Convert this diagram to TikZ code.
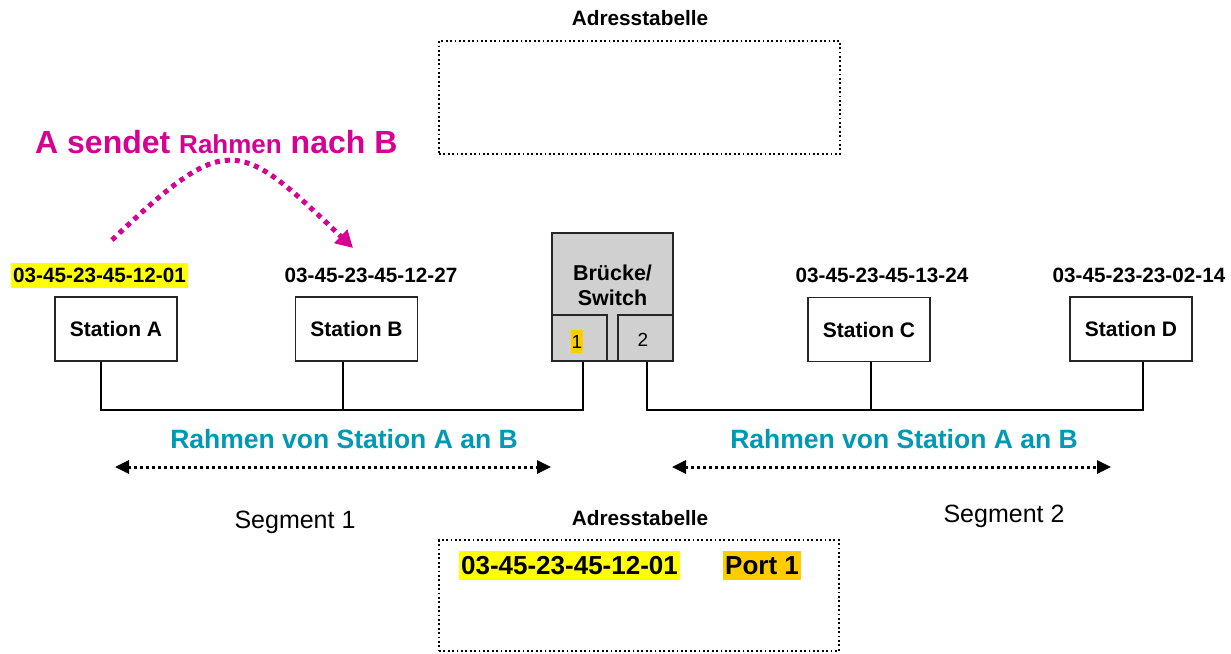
\documentclass[tikz,border=0pt]{standalone}
\usepackage{fontspec}
\setmainfont{Liberation Sans}
\usetikzlibrary{arrows.meta,calc}

\definecolor{magentaA}{RGB}{214,0,147}
\definecolor{tealA}{RGB}{0,153,181}
\definecolor{hlyellow}{RGB}{255,255,0}
\definecolor{hlorange}{RGB}{255,204,0}
\definecolor{swgray}{RGB}{208,208,208}

\newcommand\fsz[1]{\fontsize{#1}{#1}\selectfont}

\begin{document}
\begin{tikzpicture}[x=1pt,y=-1pt,
  station/.style={draw=black!85, line width=1.8pt, minimum width=122pt,
    minimum height=64pt, inner sep=0pt, font=\fsz{21}\bfseries},
  mac/.style={font=\fsz{20.7}\bfseries, inner xsep=2pt, inner ysep=0pt},
  bus/.style={line width=2.6pt, line join=miter},
  swbox/.style={draw=black!85, fill=swgray, line width=1.8pt, inner sep=0pt},
  tablebox/.style={draw, line width=1.8pt, dash pattern=on 1.8pt off 2.6pt,
    inner sep=0pt},
  tabtitle/.style={font=\fsz{20.8}\bfseries, anchor=base, inner sep=0pt},
  frametext/.style={font=\fsz{26.5}\bfseries, text=tealA, anchor=base, inner sep=0pt},
  seglabel/.style={font=\fsz{25}, anchor=base, inner sep=0pt},
  entry/.style={font=\fsz{26}\bfseries, minimum height=29pt, inner xsep=2pt, inner ysep=0pt},
  dotarrow/.style={line width=3pt, dash pattern=on 3pt off 3pt,
    {Triangle[length=14pt,width=13pt]}-{Triangle[length=14pt,width=13pt]}},
  sendarrow/.style={magentaA, line width=5pt, dash pattern=on 5pt off 5pt,
    -{Triangle[length=17pt,width=18pt]}}
]
\useasboundingbox (0,0) rectangle (1231,653);
\fill[white] (0,0) rectangle (1231,653);

% address tables
\node[tabtitle] (tt1) at (640,25) {Adresstabelle};
\node[tablebox, minimum width=401pt, minimum height=113pt] (tab1) at (639.5,97.5) {};
\node[tabtitle] (tt2) at (640,525) {Adresstabelle};
\node[tablebox, minimum width=400pt, minimum height=111pt] (tab2) at (639,595.5) {};
\node[entry, fill=hlyellow] (e1) at (569.5,565.5) {03-45-23-45-12-01};
\node[entry, fill=hlorange] (e2) at (762,565.5) {Port 1};

% heading and sending arrow
\node[anchor=base west, inner sep=0pt, text=magentaA, font=\fsz{32}\bfseries] (head) at (35,153)
  {A sendet {\fsz{26}Rahmen} nach B};
\coordinate (sA) at (112,240);
\coordinate (sB) at (353,248);
\draw[sendarrow] (sA) .. controls (228,130) and (238,138) .. (sB);

% stations
\node[station] (A) at (116,329) {Station A};
\node[station] (B) at (356.5,329) {Station B};
\node[station] (C) at (869,329.5) {Station C};
\node[station] (D) at (1131,329) {Station D};

\node[mac, fill=hlyellow, minimum height=25pt] (macA) at (99.5,275.5) {03-45-23-45-12-01};
\node[mac] (macB) at (371,275.5) {03-45-23-45-12-27};
\node[mac] (macC) at (882,275.5) {03-45-23-45-13-24};
\node[mac] (macD) at (1139,275.5) {03-45-23-23-02-14};

% bridge / switch with its two ports
\node[swbox, minimum width=121pt, minimum height=128pt] (sw) at (612.5,297) {};
\node[anchor=base, inner sep=0pt, font=\fsz{21.5}\bfseries] (swt1) at (612.5,280) {Brücke/};
\node[anchor=base, inner sep=0pt, font=\fsz{21.5}\bfseries] (swt2) at (612.5,305) {Switch};
\node[swbox, minimum width=55pt, minimum height=46pt] (port1) at (579.5,338) {};
\node[swbox, minimum width=55pt, minimum height=46pt] (port2) at (645.5,338) {};
\node[fill=hlorange, inner xsep=0.8pt, inner ysep=0pt, minimum height=23pt, font=\fsz{19}] (n1) at (577,341.5) {1};
\node[inner sep=0pt, font=\fsz{19}] (n2) at (643,340) {2};

% bus lines of the two segments
\coordinate (pA) at (101,410);
\coordinate (pB) at (343,410);
\coordinate (p1) at (583,410);
\coordinate (p2) at (647,410);
\coordinate (pC) at (871,410);
\coordinate (pD) at (1143,410);
\draw[bus] (A.south -| pA) -- (pA) -- (p1) -- (port1.south -| p1);
\draw[bus] (B.south -| pB) -- (pB);
\draw[bus] (port2.south -| p2) -- (p2) -- (pD) -- (D.south -| pD);
\draw[bus] (C.south -| pC) -- (pC);

% frame propagation
\node[frametext] (f1) at (344,448) {Rahmen von Station A an B};
\node[frametext] (f2) at (904,448) {Rahmen von Station A an B};
\coordinate (l1) at (115,467);
\coordinate (r1) at (551,467);
\coordinate (l2) at (672,467);
\coordinate (r2) at (1111,467);
\draw[dotarrow] (l1) -- (r1);
\draw[dotarrow] (l2) -- (r2);

\node[seglabel] (s1) at (295,528) {Segment 1};
\node[seglabel] (s2) at (1004,522) {Segment 2};
\end{tikzpicture}
\end{document}
